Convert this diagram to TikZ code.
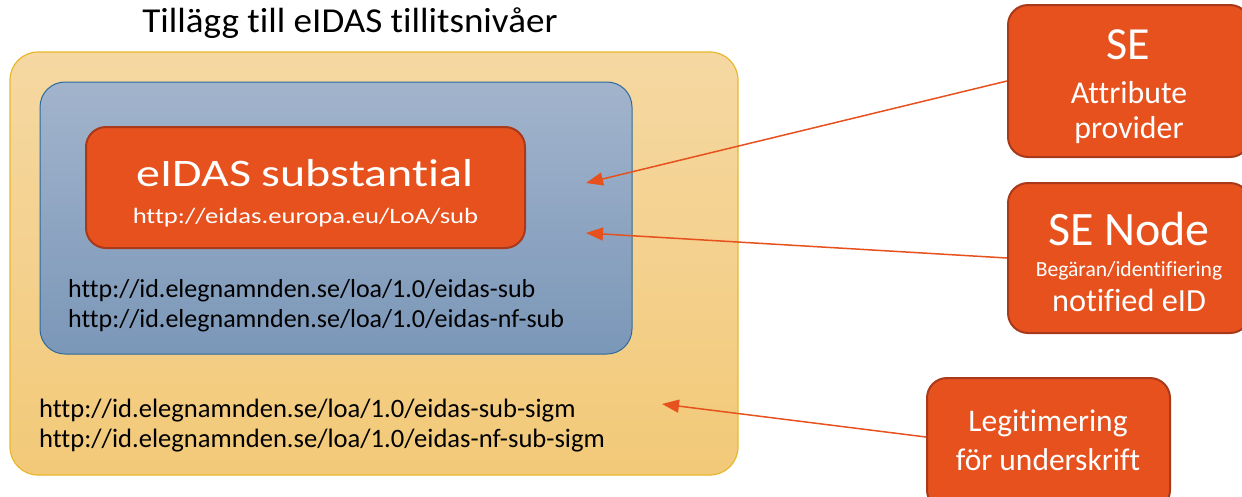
\documentclass[tikz,border=0pt]{standalone}
\usepackage{fontspec}
\setmainfont[Ligatures=NoCommon]{Carlito}
\usetikzlibrary{arrows.meta}
\definecolor{obox}{HTML}{E6511E}
\definecolor{oborder}{HTML}{A8391A}
\definecolor{ytop}{HTML}{F5D8A2}
\definecolor{ybot}{HTML}{F2C978}
\definecolor{yborder}{HTML}{E9B72C}
\definecolor{btop}{HTML}{A2B4CC}
\definecolor{bbot}{HTML}{7B97B8}
\definecolor{bborder}{HTML}{2C6A9C}
\tikzset{
  ybox/.style={draw=yborder, line width=1.2pt, rounded corners=28pt, top color=ytop, bottom color=ybot, inner sep=0pt},
  bbox/.style={draw=bborder, line width=1pt, rounded corners=25pt, top color=btop, bottom color=bbot, inner sep=0pt},
  obx/.style={draw=oborder, line width=2pt, fill=obox, rounded corners=20pt, inner sep=0pt},
  wtxt/.style={text=white, inner sep=0pt, anchor=base},
  ktxt/.style={text=black, inner sep=0pt, anchor=base west, font=\fontsize{26}{28}\selectfont},
  arr/.style={draw=obox, line width=1.5pt, -{Triangle[length=17pt,width=13pt]}}
}
\begin{document}
\begin{tikzpicture}[x=1pt,y=-1pt]
\useasboundingbox (0,0) rectangle (1242,496);
\clip (0,0) rectangle (1242,496);
% title
\node[inner sep=0pt, anchor=base, font=\fontsize{35}{38}\selectfont] (title) at (350,32.5) {\scalebox{1.06}[1]{Tillägg till eIDAS tillitsnivåer}};
% nested boxes
\node[ybox, minimum width=728, minimum height=423] (outer) at (374,263.5) {};
\node[bbox, minimum width=592, minimum height=272] (blue) at (336,218) {};
\node[obx, minimum width=439, minimum height=121] (sub) at (305.5,187.5) {};
\node[wtxt, font=\fontsize{39}{42}\selectfont] (subt) at (305,186.5) {\scalebox{1.23}[1]{eIDAS substantial}};
\node[wtxt, font=\fontsize{22}{24}\selectfont] (subu) at (305.5,223.3) {\scalebox{1.21}[1]{http://eidas.europa.eu/LoA/sub}};
\node[ktxt] (b1) at (68,297.3) {http://id.elegnamnden.se/loa/1.0/eidas-sub};
\node[ktxt] (b2) at (68,327.3) {http://id.elegnamnden.se/loa/1.0/eidas-nf-sub};
\node[ktxt, font=\fontsize{26.6}{28}\selectfont] (y1) at (39,417.3) {http://id.elegnamnden.se/loa/1.0/eidas-sub-sigm};
\node[ktxt, font=\fontsize{26.6}{28}\selectfont] (y2) at (39,447.3) {http://id.elegnamnden.se/loa/1.0/eidas-nf-sub-sigm};
% right boxes
\node[obx, minimum width=242, minimum height=152] (se) at (1129,81) {};
\node[wtxt, font=\fontsize{46}{48}\selectfont] (set) at (1128,59.3) {SE};
\node[wtxt, font=\fontsize{31.8}{34}\selectfont] (se2) at (1129,103.3) {Attribute};
\node[wtxt, font=\fontsize{31.8}{34}\selectfont] (se3) at (1129,138) {provider};
\node[obx, minimum width=242, minimum height=150] (node) at (1129,258) {};
\node[wtxt, font=\fontsize{48}{50}\selectfont] (nodet) at (1129,245) {SE Node};
\node[wtxt, font=\fontsize{21.6}{23}\selectfont] (node2) at (1129,276.7) {Begäran/identifiering};
\node[wtxt, font=\fontsize{32.3}{34}\selectfont] (node3) at (1129,311.7) {notified eID};
\node[obx, minimum width=243, minimum height=132] (leg) at (1048.5,444) {};
\node[wtxt, font=\fontsize{31.5}{34}\selectfont] (leg1) at (1048,431.7) {Legitimering};
\node[wtxt, font=\fontsize{31.5}{34}\selectfont] (leg2) at (1048,470.5) {för underskrift};
% arrows
\coordinate (t1) at (586,183);
\coordinate (t2) at (586,233);
\coordinate (t3) at (662,404);
\draw[arr] (se.west) -- (t1);
\draw[arr] (node.west) -- (t2);
\draw[arr] (leg.west |- 0,437) -- (t3);
\end{tikzpicture}
\end{document}
